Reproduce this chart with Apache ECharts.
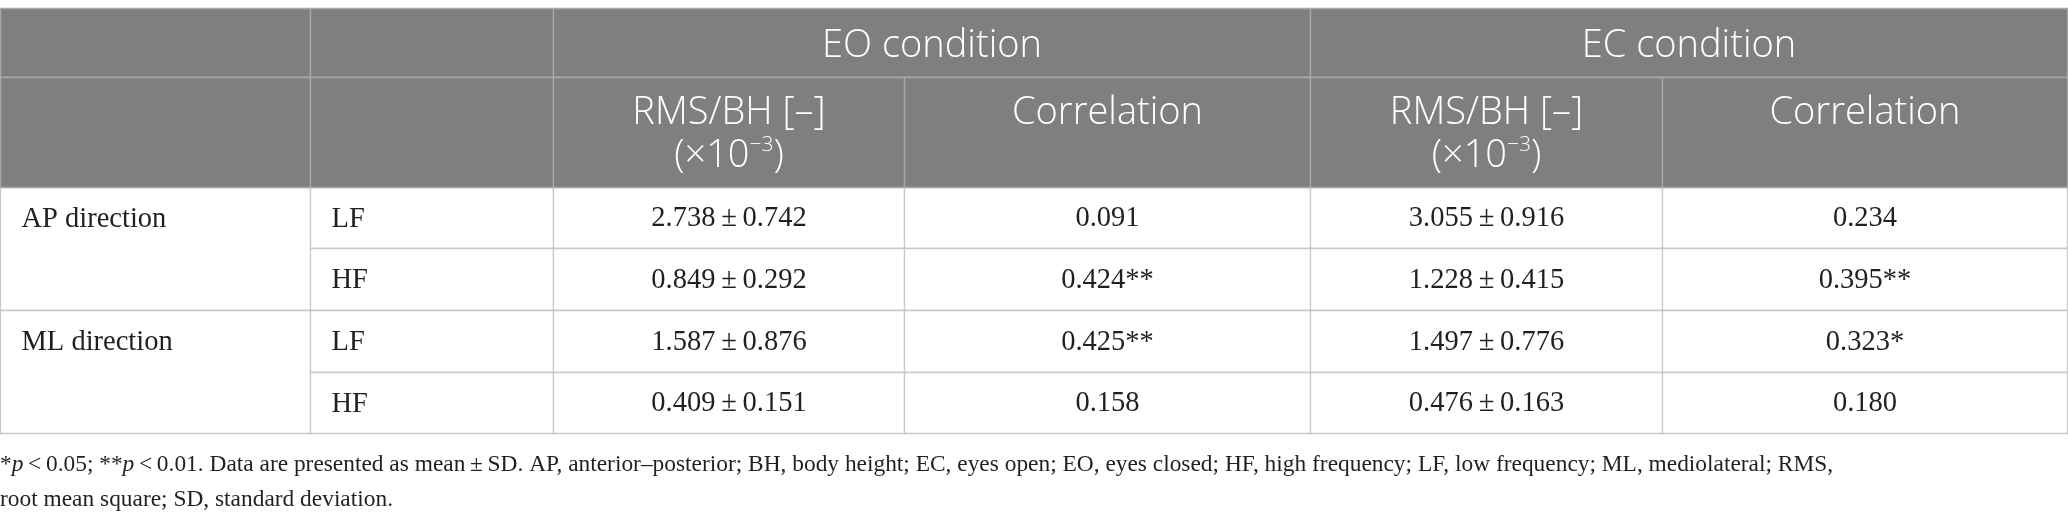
<!DOCTYPE html>
<html>
<head>
<meta charset="utf-8">
<script src="https://cdn.jsdelivr.net/npm/echarts@6/dist/echarts.min.js"></script>
<style>
    html, body { margin: 0; padding: 0; background: #fff; }
    #chart { width: 2068px; height: 528px; }
</style>
</head>
<body>
<div id="chart"></div>
<script>
// [ Data ]
const conditions = ['EO condition', 'EC condition'];
const measures = ['RMS/BH [–]\n(×10{sup|−3})', 'Correlation'];
const directions = ['AP direction', 'ML direction'];
const bands = ['LF', 'HF', 'LF', 'HF'];

const eoMean = [2.738, 0.849, 1.587, 0.409];
const eoSd = [0.742, 0.292, 0.876, 0.151];
const eoCorr = [0.091, 0.424, 0.425, 0.158];
const eoSig = ['', '**', '**', ''];

const ecMean = [3.055, 1.228, 1.497, 0.476];
const ecSd = [0.916, 0.415, 0.776, 0.163];
const ecCorr = [0.234, 0.395, 0.323, 0.180];
const ecSig = ['', '**', '*', ''];

// [ Layout ] column / row edges of the table, in page pixels
const colEdges = [0, 310, 553, 904, 1310, 1662, 2067];
const rowEdges = [8, 77, 187, 248, 310, 372, 433];

const HEAD_BG = '#7f807e';
const HEAD_LINE = '#a9aaa8';
const BODY_LINE = '#c8c8c8';
const HEAD_FONT = '"Open Sans", "Noto Sans", sans-serif';
const BODY_FONT = '"Liberation Serif", "DejaVu Serif", serif';

function fmt(v) {
    return v.toFixed(3);
}

function meanSd(m, sd) {
    return fmt(m) + '\u2009±\u2009' + fmt(sd);
}

// build the cells: [c0, c1, r0, r1], text, kind
const cells = [];

function addCell(c0, c1, r0, r1, text, kind) {
    cells.push({ span: [c0, c1, r0, r1], text: text, kind: kind });
}

// body first, header last so its lines sit on top
directions.forEach((d, i) => {
    addCell(0, 1, 2 + i * 2, 4 + i * 2, d, 'left');
});
bands.forEach((b, i) => {
    const r = 2 + i;
    addCell(1, 2, r, r + 1, b, 'left');
    addCell(2, 3, r, r + 1, meanSd(eoMean[i], eoSd[i]), 'num');
    addCell(3, 4, r, r + 1, fmt(eoCorr[i]) + eoSig[i], 'num');
    addCell(4, 5, r, r + 1, meanSd(ecMean[i], ecSd[i]), 'num');
    addCell(5, 6, r, r + 1, fmt(ecCorr[i]) + ecSig[i], 'num');
});

addCell(0, 1, 0, 1, '', 'head');
addCell(1, 2, 0, 1, '', 'head');
addCell(0, 1, 1, 2, '', 'head');
addCell(1, 2, 1, 2, '', 'head');
conditions.forEach((c, i) => {
    addCell(2 + i * 2, 4 + i * 2, 0, 1, c, 'head');
    measures.forEach((m, j) => {
        addCell(2 + i * 2 + j, 3 + i * 2 + j, 1, 2, m, 'headTop');
    });
});

const seriesData = cells.map(c => [
    colEdges[c.span[0]], colEdges[c.span[1]],
    rowEdges[c.span[2]], rowEdges[c.span[3]]
]);

function renderCell(params, api) {
    const cell = cells[params.dataIndex];
    const p0 = api.coord([api.value(0), api.value(2)]);
    const p1 = api.coord([api.value(1), api.value(3)]);
    const x0 = Math.round(p0[0]) + 0.5;
    const y0 = Math.round(p0[1]) + 0.5;
    const x1 = Math.round(p1[0]) + 0.5;
    const y1 = Math.round(p1[1]) + 0.5;
    const isHead = cell.kind === 'head' || cell.kind === 'headTop';

    const children = [{
        type: 'rect',
        shape: { x: x0, y: y0, width: x1 - x0, height: y1 - y0 },
        style: {
            fill: isHead ? HEAD_BG : '#ffffff',
            stroke: isHead ? HEAD_LINE : BODY_LINE,
            lineWidth: 1.3
        }
    }];

    if (cell.text) {
        let tx, ty, align, vAlign;
        if (cell.kind === 'left') {
            tx = x0 + 21;
            ty = y0 + 32;
            align = 'left';
            vAlign = 'middle';
        } else if (cell.kind === 'headTop') {
            tx = (x0 + x1) / 2;
            ty = y0 + 14;
            align = 'center';
            vAlign = 'top';
        } else if (cell.kind === 'head') {
            tx = (x0 + x1) / 2;
            ty = (y0 + y1) / 2 + 3;
            align = 'center';
            vAlign = 'middle';
        } else {
            tx = (x0 + x1) / 2;
            ty = (y0 + y1) / 2 + 1;
            align = 'center';
            vAlign = 'middle';
        }
        children.push({
            type: 'text',
            x: tx,
            y: ty,
            style: {
                text: cell.text,
                fill: isHead ? '#ffffff' : '#231f20',
                fontFamily: isHead ? HEAD_FONT : BODY_FONT,
                fontSize: isHead ? 38 : 28.5,
                fontWeight: isHead ? 300 : 'normal',
                lineHeight: isHead ? 43 : 32,
                align: align,
                verticalAlign: vAlign,
                rich: {
                    sup: {
                        fontFamily: HEAD_FONT,
                        fontSize: 21,
                        fontWeight: 300,
                        lineHeight: 43,
                        verticalAlign: 'top',
                        fill: '#ffffff'
                    }
                }
            }
        });
    }

    return { type: 'group', children: children };
}

const chart = echarts.init(document.getElementById('chart'), null, { renderer: 'canvas' });

chart.setOption({
    animation: false,
    backgroundColor: '#ffffff',
    title: {
        left: 0,
        top: 447,
        padding: 0,
        text: '*{i|p}\u2009<\u20090.05; **{i|p}\u2009<\u20090.01. Data are presented as mean\u2009±\u2009SD. AP, anterior–posterior; BH, body height; EC, eyes open; EO, eyes closed; HF, high frequency; LF, low frequency; ML, mediolateral; RMS,\nroot mean square; SD, standard deviation.',
        textStyle: {
            fontFamily: BODY_FONT,
            fontSize: 23.4,
            fontWeight: 'normal',
            lineHeight: 35,
            color: '#231f20',
            rich: {
                i: {
                    fontFamily: BODY_FONT,
                    fontSize: 23.4,
                    fontStyle: 'italic',
                    lineHeight: 35,
                    color: '#231f20'
                }
            }
        }
    },
    grid: { left: 0, right: 0, top: 0, bottom: 0 },
    xAxis: { type: 'value', min: 0, max: 2068, show: false },
    yAxis: { type: 'value', min: 0, max: 528, inverse: true, show: false },
    series: [{
        type: 'custom',
        renderItem: renderCell,
        encode: { x: [0, 1], y: [2, 3] },
        clip: false,
        data: seriesData
    }]
});

window.addEventListener('resize', () => chart.resize());
</script>
</body>
</html>
